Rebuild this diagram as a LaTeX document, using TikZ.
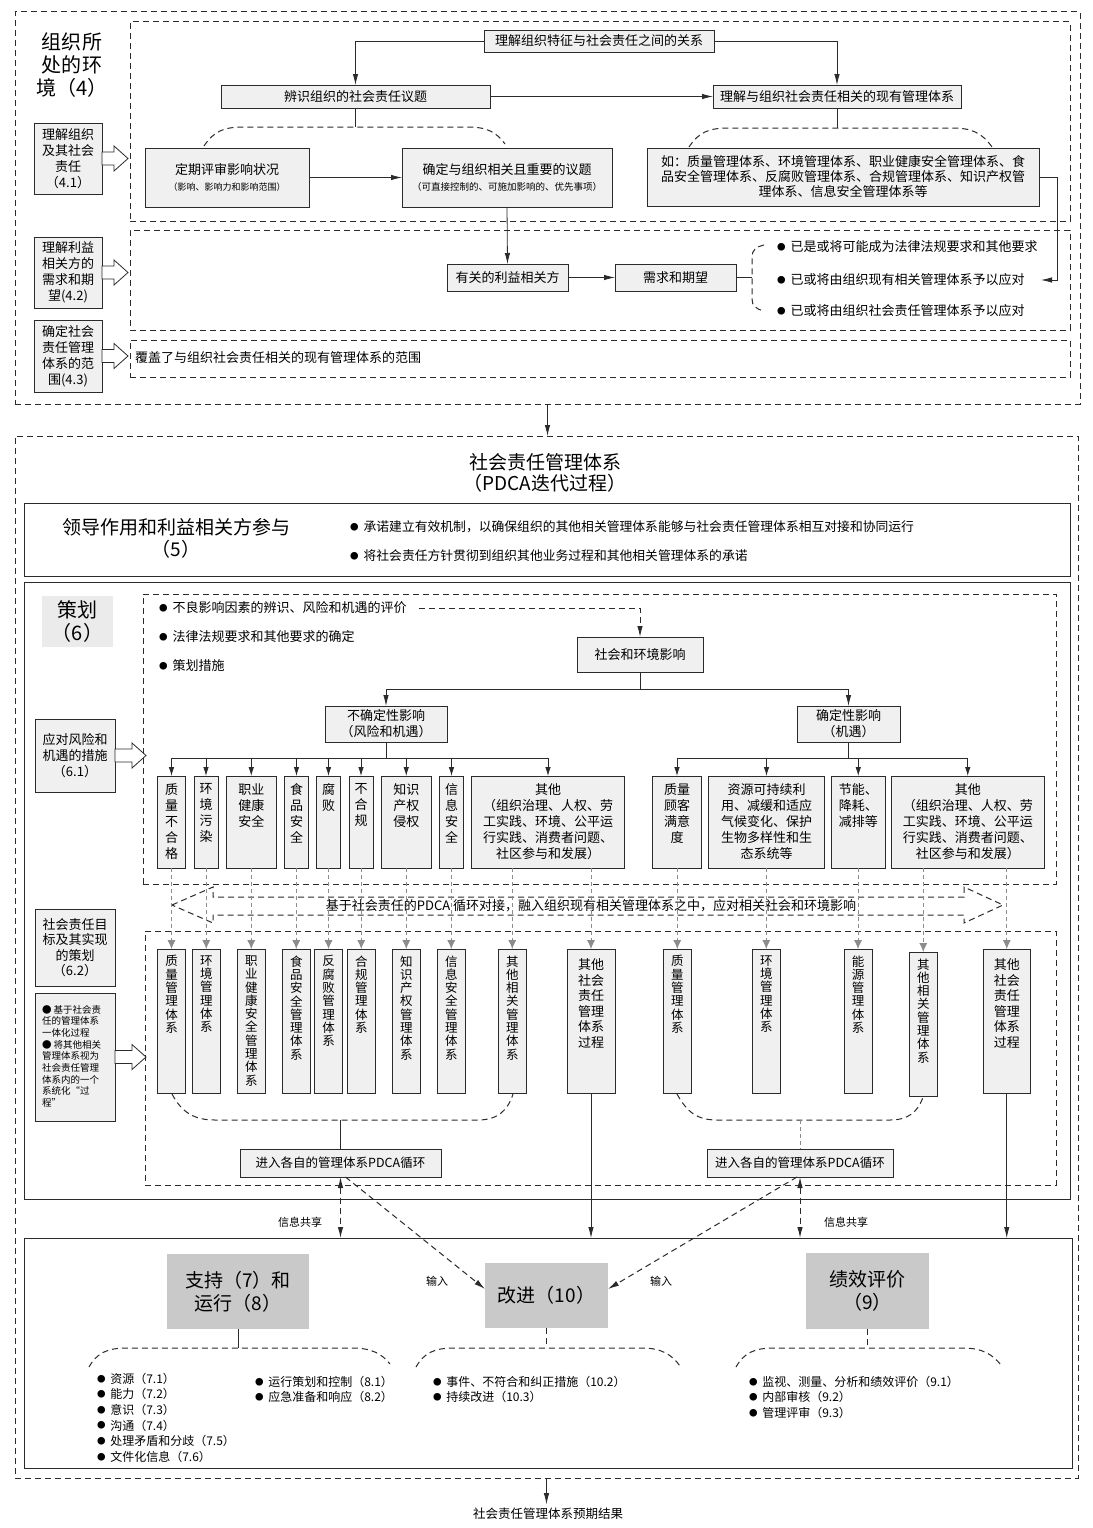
\documentclass[tikz,border=0pt]{standalone}
\usepackage{fontspec}
\setmainfont{Noto Sans CJK SC}
\usetikzlibrary{arrows.meta}
\definecolor{boxfill}{HTML}{F0F0F0}
\definecolor{tagfill}{HTML}{C9C9C9}
\definecolor{titlefill}{HTML}{EBEBEB}
\definecolor{ink}{HTML}{2B2B2B}
\definecolor{greyink}{HTML}{8C8C8C}
\newcommand{\fsz}[2]{\fontsize{#1}{#2}\selectfont}
% small list bullet
\newcommand{\blt}{\raisebox{0.1em}{\fsz{8.5}{9}●}\hspace{0.4em}}

\tikzset{
  % rectangle given by its left, top, right and bottom edges
  rect/.style n args={4}{at={({(#1+#3)/2},{(#2+#4)/2})}, minimum width={(#3)-(#1)}, minimum height={(#4)-(#2)}},
  box/.style={draw=ink, line width=0.9pt, fill=boxfill, align=center, font=\fsz{13}{16}},
  tagbox/.style={fill=tagfill, align=center, font=\fsz{19}{23}},
  solidframe/.style={draw=ink, line width=1pt},
  dashframe/.style={draw=ink, line width=1pt, dash pattern=on 6pt off 4pt},
  link/.style={draw=ink, line width=0.8pt},
  dashlink/.style={draw=ink, line width=1pt, dash pattern=on 6pt off 4pt},
  arrowend/.style={-{Latex[length=11pt,width=5.5pt]}},
  arr/.style={link, arrowend},
  smallarr/.style={link, -{Latex[length=9pt,width=5.5pt]}},
  darr/.style={dashlink, arrowend},
  twoway/.style={dashlink, {Latex[length=11pt,width=5.5pt]}-{Latex[length=11pt,width=5.5pt]}},
  greydash/.style={draw=greyink, line width=0.8pt, dash pattern=on 4pt off 3pt},
  greyarr/.style={greydash, -{Latex[length=9pt,width=8pt]}},
  vlab/.style={anchor=north, yshift=-7.5pt, align=center, inner sep=0pt, font=\fsz{13}{16}},
  mlab/.style={anchor=north, yshift=-6.5pt, align=center, inner sep=0pt, font=\fsz{12.5}{13.3}},
  wlab/.style={anchor=north, yshift=-9.5pt, align=center, inner sep=0pt, font=\fsz{13}{15.6}},
  txt/.style={font=\fsz{13}{16}},
  small/.style={font=\fsz{11}{13}},
  pics/hollowarrow/.style={code={
    \draw[draw=ink, line width=0.8pt, fill=white]
      (0,-6.5) -- ({#1-14},-6.5) -- ({#1-14},-12.5) -- (#1,0) -- ({#1-14},12.5) -- ({#1-14},6.5) -- (0,6.5) -- cycle;}},
  pics/hollowarrow/.default=26,
}

\begin{document}
\begin{tikzpicture}[x=1pt, y=-1pt, every node/.style={inner sep=0pt, outer sep=0pt}]
\path[use as bounding box, fill=white] (0,0) rectangle (1092,1528);

% ================= context of the organization (4) =================
\node[dashframe, rect={15}{12}{1080}{404}] (env) {};
\node[font=\fsz{20}{23}, align=center] (envtitle) at (72,65) {组织所\\处的环\\境（4）};
\node[dashframe, rect={130}{22}{1070}{221}] (zoneA) {};
\node[dashframe, rect={130}{230}{1070}{330}] (zoneB) {};
\node[dashframe, rect={130}{340}{1070}{377}] (zoneC) {};

\node[box, rect={34}{123}{102}{194}] (c41) {理解组织\\及其社会\\责任\\（4.1）};
\node[box, rect={34}{237}{102}{308}] (c42) {理解利益\\相关方的\\需求和期\\望(4.2)};
\node[box, rect={34}{320}{102}{392}] (c43) {确定社会\\责任管理\\体系的范\\围(4.3)};
\pic at (c41.east) {hollowarrow};
\pic at (c42.east) {hollowarrow};
\pic at (c43.east) {hollowarrow};

% issues and existing systems
\node[box, rect={484}{30}{714}{52}] (rel) {理解组织特征与社会责任之间的关系};
\node[box, rect={221}{85}{490}{108}] (issues) {辨识组织的社会责任议题};
\node[box, rect={713}{85}{961}{108}] (exist) {理解与组织社会责任相关的现有管理体系};
\draw[arr] (rel.west) -| (issues.north);
\draw[arr] (rel.east) -| (exist.north);
\draw[arr] (issues.east) -- (exist.west);

\coordinate (braceA1) at (355.5,127);
\draw[link] (issues.south) -- (braceA1);
\draw[dashlink] (204,146) .. controls (214,131) and (224,127) .. (244,127) -- (468,127) .. controls (488,127) and (497,133) .. (505,144);
\node[box, rect={145}{148}{309}{207}] (review) {定期评审影响状况\\{\fsz{9}{11}（影响、影响力和影响范围）}};
\node[box, rect={402}{148}{612}{207}] (confirm) {确定与组织相关且重要的议题\\{\fsz{9.5}{11}（可直接控制的、可施加影响的、优先事项）}};
\draw[arr] (review.east) -- (confirm.west);

\coordinate (braceA2) at (837,128);
\draw[link] (exist.south) -- (braceA2);
\draw[dashlink] (689,147) .. controls (699,132) and (709,128) .. (729,128) -- (952,128) .. controls (972,128) and (982,133) .. (992,147);
\node[box, rect={647}{148}{1039}{206}, font=\fsz{13}{15}] (examples) {如：质量管理体系、环境管理体系、职业健康安全管理体系、食\\品安全管理体系、反腐败管理体系、合规管理体系、知识产权管\\理体系、信息安全管理体系等};

% interested parties
\node[box, rect={447}{264}{568}{291}] (stake) {有关的利益相关方};
\node[box, rect={615}{264}{736}{291}] (needs) {需求和期望};
\draw[arr] (confirm.south) -- (stake.north);
\draw[arr] (stake.east) -- (needs.west);
\coordinate (braceB) at (752,277.5);
\draw[link] (needs.east) -- (braceB);
\draw[dashlink] (764,245) .. controls (756,247) and (752,250) .. (752,257) -- (752,299) .. controls (752,306) and (756,309) .. (764,311);
\node[txt, anchor=west] (req1) at (777,247) {\blt 已是或将可能成为法律法规要求和其他要求};
\node[txt, anchor=west] (req2) at (777,280) {\blt 已或将由组织现有相关管理体系予以应对};
\node[txt, anchor=west] (req3) at (777,311) {\blt 已或将由组织社会责任管理体系予以应对};
\coordinate (exturn) at (1057,280);
\coordinate (exin) at (1041,280);
\draw[arr] (examples.east) -| (exturn) -- (exin);

% scope
\node[txt, anchor=west] (scopetext) at (135,358) {覆盖了与组织社会责任相关的现有管理体系的范围};

% ================= SR management system =================
\node[dashframe, rect={15}{436}{1078}{1478}] (sms) {};
\draw[arr] (env.south) -- (env.south |- sms.north);
\node[font=\fsz{19}{21}, align=center] (smstitle) at (545,472.5) {社会责任管理体系\\（PDCA迭代过程）};

% leadership (5)
\node[solidframe, rect={24}{503}{1070}{576}] (lead) {};
\node[font=\fsz{19}{22}, align=center] (leadtitle) at (176,538) {领导作用和利益相关方参与\\（5）};
\node[anchor=west, font=\fsz{12.8}{14}] (lead1) at (350,527) {\blt 承诺建立有效机制，以确保组织的其他相关管理体系能够与社会责任管理体系相互对接和协同运行};
\node[anchor=west, font=\fsz{12.8}{14}] (lead2) at (350,556) {\blt 将社会责任方针贯彻到组织其他业务过程和其他相关管理体系的承诺};

% planning (6)
\node[solidframe, rect={24}{582}{1070}{1199}] (plan) {};
\node[fill=titlefill, minimum width=71pt, minimum height=51pt, align=center, font=\fsz{20}{23}] (plantag) at (77.5,621.5) {策划\\（6）};
\node[dashframe, rect={143}{594}{1056}{884}] (zoneP) {};
\node[txt, anchor=west] (pb1) at (159,608) {\blt 不良影响因素的辨识、风险和机遇的评价};
\node[txt, anchor=west] (pb2) at (159,637) {\blt 法律法规要求和其他要求的确定};
\node[txt, anchor=west] (pb3) at (159,666) {\blt 策划措施};
\node[box, rect={577}{637}{703}{672}] (sei) {社会和环境影响};
\draw[darr] ([xshift=12pt]pb1.east) -| (sei.north);

\node[box, rect={325}{706}{447}{742}] (unc) {不确定性影响\\（风险和机遇）};
\node[box, rect={797}{706}{900}{742}] (cert) {确定性影响\\（机遇）};
\draw[arr] (sei.south) -- ++(0,17) -| (unc.north);
\draw[arr] (sei.south) -- ++(0,17) -| (cert.north);

% impact categories
\node[box, rect={157.5}{776}{185.5}{868}, label={[vlab]north:{质\\量\\不\\合\\格}}] (i1) {};
\node[box, rect={194}{776}{218}{868}, label={[vlab]north:{环\\境\\污\\染}}] (i2) {};
\node[box, rect={226.5}{776}{276}{868}, label={[vlab]north:{职业\\健康\\安全}}] (i3) {};
\node[box, rect={284.5}{776}{308.5}{868}, label={[vlab]north:{食\\品\\安\\全}}] (i4) {};
\node[box, rect={316.5}{776}{340.5}{868}, label={[vlab]north:{腐\\败}}] (i5) {};
\node[box, rect={349}{776}{373}{868}, label={[vlab]north:{不\\合\\规}}] (i6) {};
\node[box, rect={381.5}{776}{431}{868}, label={[vlab]north:{知识\\产权\\侵权}}] (i7) {};
\node[box, rect={439.5}{776}{463.5}{868}, label={[vlab]north:{信\\息\\安\\全}}] (i8) {};
\node[box, rect={471.5}{776}{624.5}{868}, label={[vlab]north:{其他\\（组织治理、人权、劳\\工实践、环境、公平运\\行实践、消费者问题、\\社区参与和发展）}}] (i9) {};
\node[box, rect={652.5}{776}{701.5}{868}, label={[vlab]north:{质量\\顾客\\满意\\度}}] (i10) {};
\node[box, rect={708.5}{776}{824.5}{868}, label={[vlab]north:{资源可持续利\\用、减缓和适应\\气候变化、保护\\生物多样性和生\\态系统等}}] (i11) {};
\node[box, rect={831.5}{776}{885}{868}, label={[vlab]north:{节能、\\降耗、\\减排等}}] (i12) {};
\node[box, rect={891.5}{776}{1044}{868}, label={[vlab]north:{其他\\（组织治理、人权、劳\\工实践、环境、公平运\\行实践、消费者问题、\\社区参与和发展）}}] (i13) {};
\foreach \b in {i1,i2,i3,i4,i5,i6,i7,i8,i9}
  \draw[smallarr] (unc.south) -- ++(0,16) -| (\b.north);
\foreach \b in {i10,i11,i12,i13}
  \draw[smallarr] (cert.south) -- ++(0,16) -| (\b.north);

% PDCA alignment band
\draw[dashlink] (172,905) -- (213,887) -- (213,897) -- (964,897) -- (964,887) -- (1003,905) -- (964,923) -- (964,915) -- (213,915) -- (213,923) -- cycle;
\node[font=\fsz{13}{15}] (bandtext) at (591,906) {基于社会责任的PDCA 循环对接，融入组织现有相关管理体系之中，应对相关社会和环境影响};

% management systems
\node[dashframe, rect={145}{931}{1056}{1185}] (zoneM) {};
\node[box, rect={157.5}{949}{185.5}{1093}, label={[mlab]north:{质\\量\\管\\理\\体\\系}}] (m1) {};
\node[box, rect={192.5}{949}{220}{1093}, label={[mlab]north:{环\\境\\管\\理\\体\\系}}] (m2) {};
\node[box, rect={237.5}{949}{265}{1093}, label={[mlab]north:{职\\业\\健\\康\\安\\全\\管\\理\\体\\系}}] (m3) {};
\node[box, rect={282.5}{949}{310}{1093}, label={[mlab]north:{食\\品\\安\\全\\管\\理\\体\\系}}] (m4) {};
\node[box, rect={314.5}{949}{342.5}{1093}, label={[mlab]north:{反\\腐\\败\\管\\理\\体\\系}}] (m5) {};
\node[box, rect={347.5}{949}{375}{1093}, label={[mlab]north:{合\\规\\管\\理\\体\\系}}] (m6) {};
\node[box, rect={392.5}{949}{420}{1093}, label={[mlab]north:{知\\识\\产\\权\\管\\理\\体\\系}}] (m7) {};
\node[box, rect={437.5}{949}{465}{1093}, label={[mlab]north:{信\\息\\安\\全\\管\\理\\体\\系}}] (m8) {};
\node[box, rect={498.5}{949}{526}{1093}, label={[mlab]north:{其\\他\\相\\关\\管\\理\\体\\系}}] (m9) {};
\node[box, rect={567}{949}{615}{1093}, label={[wlab]north:{其他\\社会\\责任\\管理\\体系\\过程}}] (m10) {};
\node[box, rect={663.5}{949}{691}{1093}, label={[mlab]north:{质\\量\\管\\理\\体\\系}}] (m11) {};
\node[box, rect={752.5}{949}{780}{1093}, label={[mlab]north:{环\\境\\管\\理\\体\\系}}] (m12) {};
\node[box, rect={844}{949}{872}{1093}, label={[mlab]north:{能\\源\\管\\理\\体\\系}}] (m13) {};
\node[box, rect={909.5}{952}{937}{1096}, label={[mlab]north:{其\\他\\相\\关\\管\\理\\体\\系}}] (m14) {};
\node[box, rect={983}{949}{1030.5}{1093}, label={[wlab]north:{其他\\社会\\责任\\管理\\体系\\过程}}] (m15) {};

\foreach \k in {1,...,8}
  \draw[greyarr] (m\k.north |- i\k.south) -- (m\k.north);
\draw[greyarr] (m9.north |- i9.south) -- (m9.north);
\draw[greyarr] (m10.north |- i9.south) -- (m10.north);
\draw[greyarr] (m11.north |- i10.south) -- (m11.north);
\draw[greyarr] (m12.north |- i11.south) -- (m12.north);
\draw[greyarr] (m13.north |- i12.south) -- (m13.north);
\draw[greyarr] (m14.north |- i13.south) -- (m14.north);
\draw[greyarr] (m15.north |- i13.south) -- (m15.north);

\draw[dashlink] (172,1094) .. controls (182,1113) and (195,1120) .. (215,1120) -- (478,1120) .. controls (498,1120) and (508,1110) .. (513,1094);
\draw[dashlink] (677,1094) .. controls (687,1112) and (697,1120) .. (717,1120) -- (890,1120) .. controls (908,1120) and (918,1112) .. (923,1097);
\node[box, rect={240}{1149}{441}{1177}, font=\fsz{12.5}{15}] (pdcaL) {进入各自的管理体系PDCA循环};
\node[box, rect={707}{1149}{893}{1177}, font=\fsz{12.5}{15}] (pdcaR) {进入各自的管理体系PDCA循环};
\coordinate (braceM1) at (340.5,1120);
\coordinate (braceM2) at (800,1120);
\draw[link] (braceM1) -- (pdcaL.north);
\draw[greydash] (braceM2) -- (pdcaR.north);

% left-hand clause boxes
\node[box, rect={35}{719}{115}{792}] (c61) {应对风险和\\机遇的措施\\（6.1）};
\node[box, rect={35}{909}{115}{986}, font=\fsz{13}{15.4}] (c62) {社会责任目\\标及其实现\\的策划\\（6.2）};
\node[box, rect={35}{993}{115}{1121}] (c62b) {};
\node[anchor=north west, align=left, font=\fsz{9.5}{11.7}] (c62btext) at (42,1005) {● 基于社会责\\任的管理体系\\一体化过程\\● 将其他相关\\管理体系视为\\社会责任管理\\体系内的一个\\系统化“过\\程”};
\pic at (c61.east) {hollowarrow=31};
\pic at (c62b.east) {hollowarrow=31};

% support, operation, evaluation, improvement
\node[solidframe, rect={24}{1238}{1072}{1468}] (ops) {};
\draw[arr] (m10.south) -- (m10.south |- ops.north);
\draw[arr] (m15.south) -- (m15.south |- ops.north);
\draw[twoway] (pdcaL.south) -- (pdcaL.south |- ops.north);
\draw[twoway] (pdcaR.south) -- (pdcaR.south |- ops.north);
\node[small] (shareL) at (300,1222) {信息共享};
\node[small] (shareR) at (846,1222) {信息共享};

\node[tagbox, rect={167}{1254}{309}{1329}] (sup) {支持（7）和\\运行（8）};
\node[tagbox, rect={485}{1263}{608}{1328}] (imp) {改进（10）};
\node[tagbox, rect={806}{1253}{929}{1329}] (perf) {绩效评价\\（9）};
\draw[darr] ([xshift=5pt]pdcaL.south) -- ([yshift=6.5pt]imp.west);
\draw[darr] ([xshift=-3pt]pdcaR.south) -- ([yshift=6.5pt]imp.east);
\node[small] (inL) at (437,1281) {输入};
\node[small] (inR) at (661,1281) {输入};

\coordinate (braceS) at (238,1348);
\draw[link] (sup.south) -- (braceS);
\draw[dashlink] (89,1367) .. controls (97,1353) and (107,1348) .. (127,1348) -- (352,1348) .. controls (372,1348) and (382,1354) .. (390,1364);
\coordinate (braceI) at (546.5,1348);
\draw[dashlink] (imp.south) -- (braceI);
\draw[dashlink] (416,1367) .. controls (424,1353) and (434,1348) .. (454,1348) -- (642,1348) .. controls (662,1348) and (672,1355) .. (680,1366);
\coordinate (braceP) at (867.5,1348);
\draw[dashlink] (perf.south) -- (braceP);
\draw[dashlink] (736,1367) .. controls (744,1353) and (754,1348) .. (774,1348) -- (963,1348) .. controls (983,1348) and (993,1355) .. (1001,1365);

\node[anchor=north west, align=left, font=\fsz{12}{15.6}] (suplist) at (97,1373) {\blt 资源（7.1）\\\blt 能力（7.2）\\\blt 意识（7.3）\\\blt 沟通（7.4）\\\blt 处理矛盾和分歧（7.5）\\\blt 文件化信息（7.6）};
\node[anchor=north west, align=left, font=\fsz{12}{15.3}] (oplist) at (255,1376) {\blt 运行策划和控制（8.1）\\\blt 应急准备和响应（8.2）};
\node[anchor=north west, align=left, font=\fsz{12}{15.3}] (implist) at (433,1376) {\blt 事件、不符合和纠正措施（10.2）\\\blt 持续改进（10.3）};
\node[anchor=north west, align=left, font=\fsz{12}{15.5}] (perflist) at (749,1376) {\blt 监视、测量、分析和绩效评价（9.1）\\\blt 内部审核（9.2）\\\blt 管理评审（9.3）};

% intended outcomes
\node[font=\fsz{12.5}{15}] (result) at (548,1514) {社会责任管理体系预期结果};
\draw[arr, shorten >=4pt] (sms.south) -- (sms.south |- result.north);
\end{tikzpicture}
\end{document}
